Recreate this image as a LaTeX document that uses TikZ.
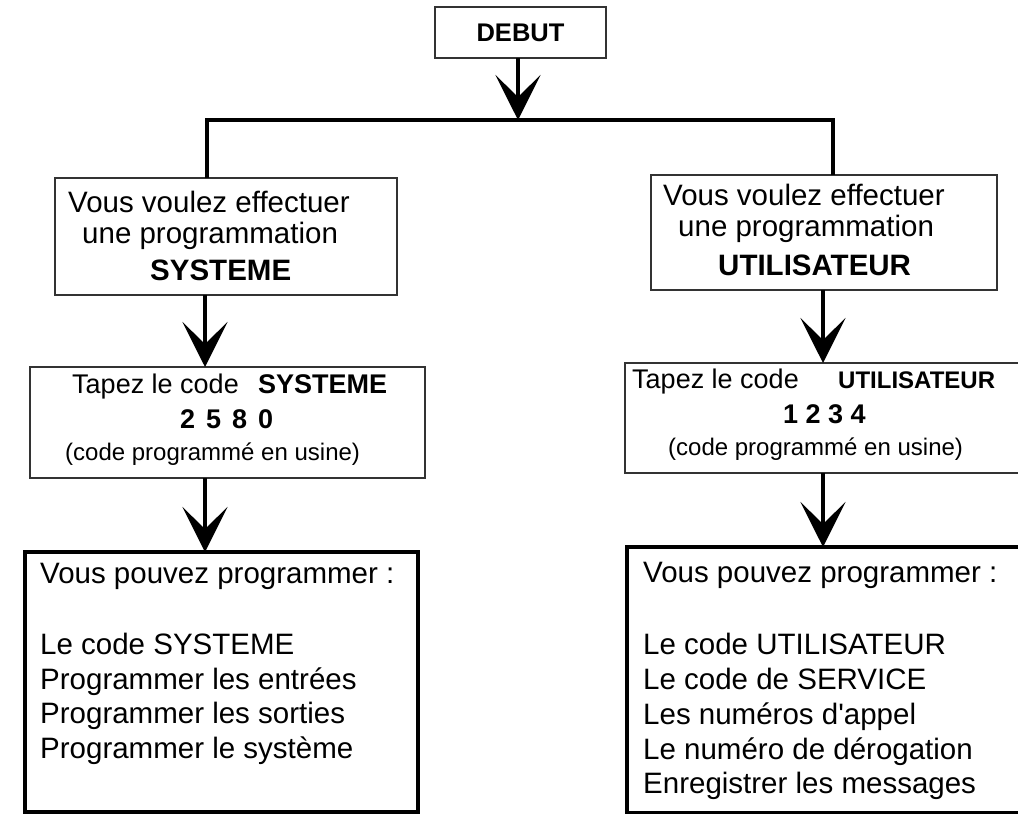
\documentclass[tikz,border=0pt]{standalone}
\usepackage{fontspec}
\setmainfont{Liberation Sans}
\usetikzlibrary{arrows.meta}

\def\traitColor{black!80}
\newcommand\txtgrand{\fontsize{29.5pt}{34pt}\selectfont}
\newcommand\txtmoyen{\fontsize{27pt}{31pt}\selectfont}
\newcommand\txtpetit{\fontsize{24pt}{28pt}\selectfont}
\newcommand\txtdebut{\fontsize{25.5pt}{29pt}\selectfont}

\tikzset{
  cadre/.style={draw=\traitColor, line width=1.5pt, inner sep=0pt, outer sep=0pt, anchor=north west},
  cadregras/.style={draw=black, line width=3.5pt, inner sep=0pt, outer sep=0pt, anchor=north west},
  ligne/.style={anchor=base west, inner sep=0pt},
  tige/.style={line width=4pt},
  fleche/.style={line width=4pt, -{Stealth[length=45pt, width=45pt, inset=22pt]}},
}

\begin{document}
\begin{tikzpicture}[x=1pt, y=-1pt]
    % Define page
    \useasboundingbox (0,0) rectangle (1018,814);
    \clip (0,0) rectangle (1018,814);

    % axes
    \coordinate (axeDebut) at (518,120);
    \coordinate (axeSys) at (205,0);
    \coordinate (axeUtil) at (823,0);
    \coordinate (brancheG) at (207,120);
    \coordinate (brancheD) at (833,120);

    % boites
    \node[cadre, minimum width=171pt, minimum height=51pt] (debut) at (435,7) {\txtdebut\bfseries DEBUT};

    \node[cadre, minimum width=342pt, minimum height=117pt] (sys1) at (55,178) {};
    \node[cadre, minimum width=346pt, minimum height=115pt] (util1) at (651,175) {};

    \node[cadre, minimum width=395pt, minimum height=111pt] (sys2) at (30,367) {};
    \node[cadre, minimum width=405pt, minimum height=110pt] (util2) at (625,363) {};

    \node[cadregras, minimum width=393pt, minimum height=260pt] (sys3) at (25,552) {};
    \node[cadregras, minimum width=403pt, minimum height=266pt] (util3) at (627,547) {};

    % textes SYSTEME
    \node[ligne] (sysA) at (68,212) {\txtgrand Vous voulez effectuer};
    \node[ligne] (sysB) at (82,243) {\txtgrand une programmation};
    \node[ligne] (sysC) at (150,280) {\txtgrand\bfseries SYSTEME};

    \node[ligne] (sysD) at (72,393) {\txtmoyen Tapez le code};
    \node[ligne] (sysE) at (258,393) {\txtmoyen\bfseries SYSTEME};
    \node[ligne] (sysF) at (180,428) {\txtmoyen\bfseries 2\hspace{11pt}5\hspace{11pt}8\hspace{11pt}0};
    \node[ligne] (sysG) at (65,460) {\txtpetit (code programmé en usine)};

    \node[ligne] (sysH) at (40,583) {\txtgrand Vous pouvez programmer :};
    \node[ligne] (sysI) at (40,654) {\txtgrand Le code SYSTEME};
    \node[ligne] (sysJ) at (40,689) {\txtgrand Programmer les entrées};
    \node[ligne] (sysK) at (40,723) {\txtgrand Programmer les sorties};
    \node[ligne] (sysL) at (40,758) {\txtgrand Programmer le système};

    % textes UTILISATEUR
    \node[ligne] (utilA) at (663,205) {\txtgrand Vous voulez effectuer};
    \node[ligne] (utilB) at (678,236) {\txtgrand une programmation};
    \node[ligne] (utilC) at (718,275) {\txtgrand\bfseries UTILISATEUR};

    \node[ligne] (utilD) at (632,388) {\txtmoyen Tapez le code};
    \node[ligne] (utilE) at (838,388) {\txtpetit\bfseries UTILISATEUR};
    \node[ligne] (utilF) at (783,423) {\txtmoyen\bfseries 1 2 3 4};
    \node[ligne] (utilG) at (668,455) {\txtpetit (code programmé en usine)};

    \node[ligne] (utilH) at (643,582) {\txtgrand Vous pouvez programmer :};
    \node[ligne] (utilI) at (643,654) {\txtgrand Le code UTILISATEUR};
    \node[ligne] (utilJ) at (643,689) {\txtgrand Le code de SERVICE};
    \node[ligne] (utilK) at (643,724) {\txtgrand Les numéros d\textquotesingle appel};
    \node[ligne] (utilL) at (643,759) {\txtgrand Le numéro de dérogation};
    \node[ligne] (utilM) at (643,793) {\txtgrand Enregistrer les messages};

    % liaisons
    \draw[fleche] (debut.south -| axeDebut) -- (axeDebut);
    \draw[tige] (sys1.north -| brancheG) -- (brancheG) -- (brancheD) -- (util1.north -| brancheD);

    \draw[fleche] (sys1.south -| axeSys) -- (sys2.north -| axeSys);
    \draw[fleche] (sys2.south -| axeSys) -- (sys3.north -| axeSys);
    \draw[fleche] (util1.south -| axeUtil) -- (util2.north -| axeUtil);
    \draw[fleche] (util2.south -| axeUtil) -- (util3.north -| axeUtil);
\end{tikzpicture}
\end{document}
